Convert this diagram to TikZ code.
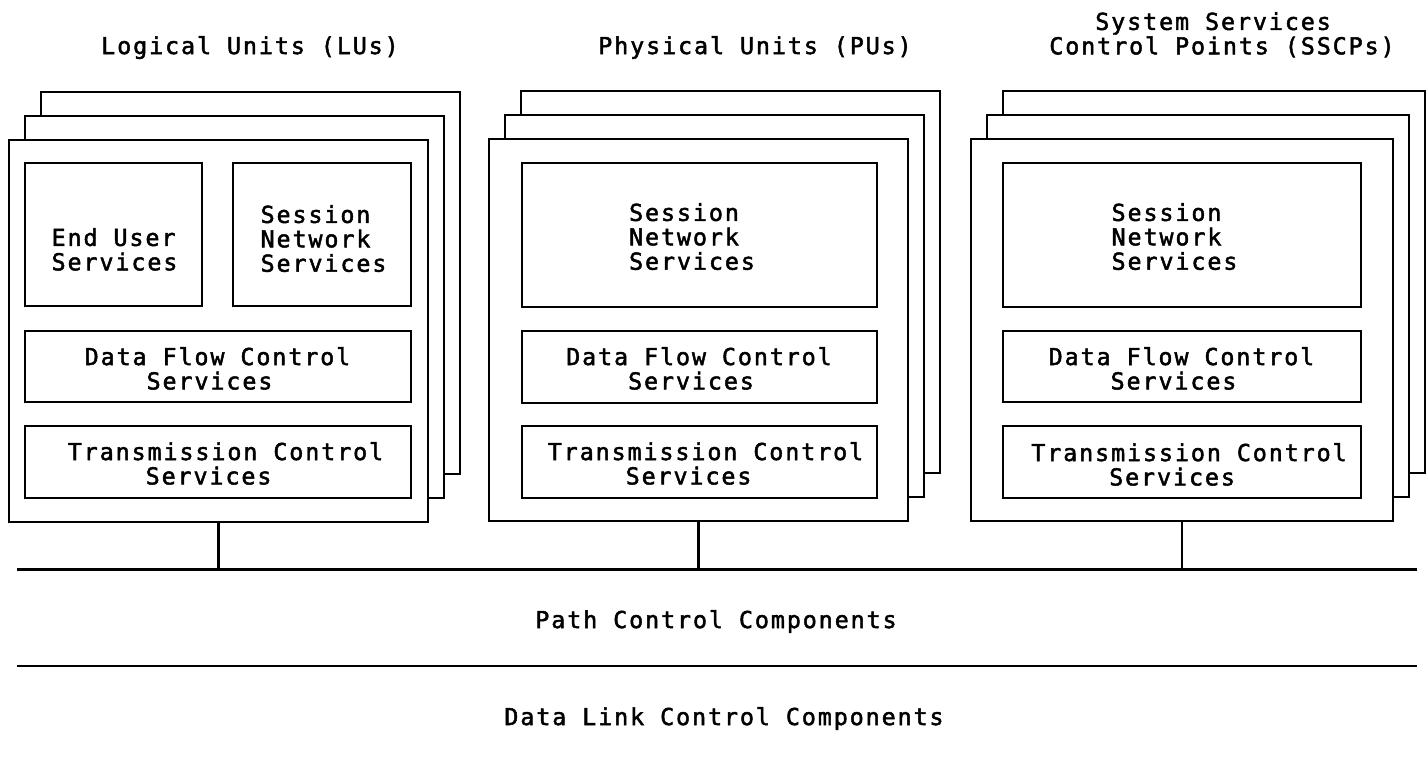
\documentclass[tikz,border=0pt]{standalone}
\usepackage{fontspec}
\setmainfont{DejaVu Sans Mono}[LetterSpace=8.3,FakeBold=2]
\begin{document}
\begin{tikzpicture}[x=1pt,y=-1pt,
  panel/.style={draw, fill=white, line width=2.4pt, rectangle, inner sep=0pt,
                outer sep=0pt, anchor=north west},
  part/.style={draw, fill=white, line width=2.4pt, rectangle, inner sep=0pt,
               outer sep=0pt, anchor=north west},
  lbl/.style={font=\fontsize{23.3}{24.4}\selectfont, inner sep=0pt, align=left,
              anchor=north},
  bus/.style={line width=2.8pt},
  link/.style={line width=2.2pt}]
\useasboundingbox (0,0) rectangle (1428,757);

% a stack of three unit panels: name, left, top, width of the front panel
\newcommand\unitstack[4]{%
  \node[panel, minimum width=#4pt, minimum height=382pt] (#1back)  at ({#2+32},{#3-48}) {};
  \node[panel, minimum width=#4pt, minimum height=382pt] (#1mid)   at ({#2+16},{#3-24}) {};
  \node[panel, minimum width=#4pt, minimum height=382pt] (#1front) at (#2,#3) {};
}

% titles
\node[lbl] (lutitle) at (250,36) {Logical Units (LUs)};
\node[lbl] (putitle) at (755,36) {Physical Units (PUs)};
\node[lbl] (sstitle) at (1222,12) {\hphantom{Con}System Services\\Control Points (SSCPs)};

% Logical units
\unitstack{lu}{9}{140}{419}
\node[part, minimum width=177pt, minimum height=143pt] (lueus) at (25,163) {};
\node[part, minimum width=178pt, minimum height=143pt] (lusns) at (233,163) {};
\node[part, minimum width=386pt, minimum height=71pt]  (ludfc) at (25,331) {};
\node[part, minimum width=386pt, minimum height=72pt]  (lutcs) at (25,426) {};
\node[lbl] at (114.5,228) {End User\\Services};
\node[lbl] at (323.5,205) {Session\\Network\\Services};
\node[lbl] at (217.5,347) {Data Flow Control\\\hphantom{Data}Services};
\node[lbl] at (225.5,442) {Transmission Control\\\hphantom{Trans}Services};

% Physical units
\unitstack{pu}{489}{139}{419}
\node[part, minimum width=355pt, minimum height=144pt] (pusns) at (522,163) {};
\node[part, minimum width=355pt, minimum height=72pt]  (pudfc) at (522,331) {};
\node[part, minimum width=355pt, minimum height=72pt]  (putcs) at (522,426) {};
\node[lbl] at (692,203) {Session\\Network\\Services};
\node[lbl] at (699,347) {Data Flow Control\\\hphantom{Data}Services};
\node[lbl] at (705.5,442) {Transmission Control\\\hphantom{Trans}Services};

% System services control points
\unitstack{ss}{971}{139}{422}
\node[part, minimum width=358pt, minimum height=144pt] (sssns) at (1003,163) {};
\node[part, minimum width=358pt, minimum height=71pt]  (ssdfc) at (1003,331) {};
\node[part, minimum width=358pt, minimum height=72pt]  (sstcs) at (1003,426) {};
\node[lbl] at (1174.5,203) {Session\\Network\\Services};
\node[lbl] at (1181.5,347) {Data Flow Control\\\hphantom{Data}Services};
\node[lbl] at (1189,443) {Transmission Control\\\hphantom{Trans}Services};

% layer boundaries
\coordinate (pcl) at (17,569.5);
\coordinate (pcr) at (1417,569.5);
\coordinate (dll) at (17,666);
\coordinate (dlr) at (1417,666);
\draw[bus] (pcl) -- (pcr);
\draw[bus] (dll) -- (dlr);

% attachments to path control
\draw[link] (lufront.south) -- (lufront.south |- pcl);
\draw[link] (pufront.south) -- (pufront.south |- pcl);
\draw[link] (ssfront.south) -- (ssfront.south |- pcl);

\node[lbl] (pclabel) at (716,610) {Path Control Components};
\node[lbl] (dllabel) at (724,707) {Data Link Control Components};
\end{tikzpicture}
\end{document}
